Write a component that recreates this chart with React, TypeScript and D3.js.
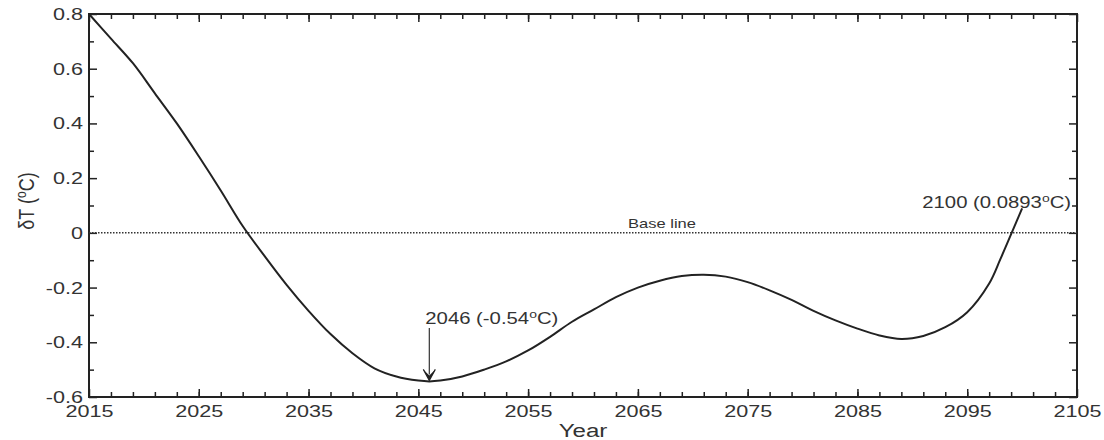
import React, { FC, useEffect, useRef } from "react";
import * as d3 from "d3";

// Temperature anomaly relative to the base line
const years = [
    2015, 2017, 2019, 2021, 2023, 2025, 2027, 2029, 2031, 2033, 2035, 2037, 2039, 2041, 2043, 2045, 2046,
    2047, 2049, 2051, 2053, 2055, 2057, 2059, 2061, 2063, 2065, 2067, 2069, 2071, 2073, 2075, 2077, 2079,
    2081, 2083, 2085, 2087, 2089, 2091, 2093, 2095, 2097, 2098, 2099, 2100,
];
const deltaT = [
    0.8, 0.71, 0.62, 0.51, 0.4, 0.28, 0.155, 0.025, -0.085, -0.19, -0.285, -0.37, -0.44, -0.495, -0.525, -0.54, -0.543,
    -0.54, -0.525, -0.5, -0.47, -0.43, -0.38, -0.325, -0.28, -0.235, -0.2, -0.175, -0.158, -0.153, -0.16, -0.18, -0.21, -0.245,
    -0.285, -0.32, -0.35, -0.375, -0.388, -0.377, -0.345, -0.29, -0.185, -0.098, -0.005, 0.0893,
];

const xMajorTicks = [2015, 2025, 2035, 2045, 2055, 2065, 2075, 2085, 2095, 2105];
const xMinorTicks = d3.range(2017, 2105, 2);
const yMajorTicks = [-0.6, -0.4, -0.2, 0, 0.2, 0.4, 0.6, 0.8];
const yMinorTicks = [-0.5, -0.3, -0.1, 0.1, 0.3, 0.5, 0.7];

const minYear = { year: 2046, value: -0.543, label: "2046 (-0.54" };
const endYear = { year: 2100, value: 0.0893, label: "2100 (0.0893" };

const FONT = "'Liberation Sans', Arial, sans-serif";
const INK = "#222";
const SX = 1.27; // the source figure is stretched horizontally

const Chart: FC = () => {
    const svgRef = useRef<SVGSVGElement>(null);

    useEffect(() => {
        if (!svgRef.current) return;
        d3.select(svgRef.current).selectAll("*").remove();

        const left = 89, right = 1077, top = 14, bottom = 397;
        const svg = d3.select(svgRef.current);

        const x = d3.scaleLinear().domain([2015, 2105]).range([left, right]);
        const y = d3.scaleLinear().domain([-0.6, 0.8]).range([bottom, top]);

        const styleAxis = (g: d3.Selection<SVGGElement, unknown, null, undefined>) => {
            g.select(".domain").remove();
            g.selectAll("line").attr("stroke", INK).attr("stroke-width", 1.5);
        };

        // Bottom axis with labels
        const bottomAxis = svg.append("g")
            .attr("transform", `translate(0,${bottom})`)
            .call(d3.axisBottom(x).tickValues(xMajorTicks).tickSize(-8).tickSizeOuter(0).tickPadding(8).tickFormat(d3.format("d")));
        styleAxis(bottomAxis);
        bottomAxis.selectAll("text")
            .attr("transform", `scale(${SX},1)`)
            .style("font-family", FONT).style("font-size", "17px").attr("fill", "#333");
        styleAxis(svg.append("g")
            .attr("transform", `translate(0,${bottom})`)
            .call(d3.axisBottom(x).tickValues(xMinorTicks).tickSize(-5).tickFormat(() => "")));

        // Top axis (ticks only)
        styleAxis(svg.append("g")
            .attr("transform", `translate(0,${top})`)
            .call(d3.axisTop(x).tickValues(xMajorTicks).tickSize(-8).tickFormat(() => "")));
        styleAxis(svg.append("g")
            .attr("transform", `translate(0,${top})`)
            .call(d3.axisTop(x).tickValues(xMinorTicks).tickSize(-5).tickFormat(() => "")));

        // Left axis with labels
        const leftAxis = svg.append("g")
            .attr("transform", `translate(${left},0)`)
            .call(d3.axisLeft(y).tickValues(yMajorTicks).tickSize(-8).tickSizeOuter(0)
                .tickFormat(d => String(+(+d).toFixed(1))));
        styleAxis(leftAxis);
        leftAxis.selectAll("text")
            .attr("x", -6 / SX)
            .attr("transform", `scale(${SX},1)`)
            .style("font-family", FONT).style("font-size", "17px").attr("fill", "#333");
        styleAxis(svg.append("g")
            .attr("transform", `translate(${left},0)`)
            .call(d3.axisLeft(y).tickValues(yMinorTicks).tickSize(-5).tickFormat(() => "")));

        // Right axis (ticks only)
        styleAxis(svg.append("g")
            .attr("transform", `translate(${right},0)`)
            .call(d3.axisRight(y).tickValues(yMajorTicks).tickSize(-8).tickFormat(() => "")));
        styleAxis(svg.append("g")
            .attr("transform", `translate(${right},0)`)
            .call(d3.axisRight(y).tickValues(yMinorTicks).tickSize(-5).tickFormat(() => "")));

        // Frame
        svg.append("rect")
            .attr("x", left).attr("y", top)
            .attr("width", right - left).attr("height", bottom - top)
            .attr("fill", "none").attr("stroke", INK).attr("stroke-width", 2);

        // Base line
        svg.append("line")
            .attr("x1", left).attr("x2", right)
            .attr("y1", y(0)).attr("y2", y(0))
            .attr("stroke", "#333").attr("stroke-width", 1.5)
            .attr("stroke-dasharray", "1.5,1.5");

        svg.append("text")
            .attr("transform", `translate(662,228) scale(${SX},1)`)
            .attr("text-anchor", "middle")
            .style("font-family", FONT).style("font-size", "13px").attr("fill", "#333")
            .text("Base line");

        // Curve
        const line = d3.line<number>()
            .x((_, i) => x(years[i]))
            .y(d => y(d))
            .curve(d3.curveCatmullRom.alpha(0.5));

        svg.append("path")
            .datum(deltaT)
            .attr("d", line)
            .attr("fill", "none")
            .attr("stroke", INK)
            .attr("stroke-width", 2);

        // Annotation helper with superscript degree
        const annotate = (tx: number, ty: number, anchor: string, label: string) => {
            const t = svg.append("text")
                .attr("transform", `translate(${tx},${ty}) scale(${SX},1)`)
                .attr("text-anchor", anchor)
                .style("font-family", FONT).style("font-size", "16px").attr("fill", "#333");
            t.append("tspan").text(label);
            t.append("tspan").attr("dy", -6).style("font-size", "11px").text("o");
            t.append("tspan").attr("dy", 6).text("C)");
        };

        // Minimum arrow
        const ax = x(minYear.year);
        const ay = y(minYear.value) - 1;
        svg.append("line")
            .attr("x1", ax).attr("x2", ax)
            .attr("y1", 328).attr("y2", ay - 6)
            .attr("stroke", "#333").attr("stroke-width", 1.2);
        svg.append("path")
            .attr("d", `M${ax - 6},${ay - 11} L${ax},${ay - 5} L${ax + 6},${ay - 11} L${ax},${ay} Z`)
            .attr("fill", INK);
        svg.append("path")
            .attr("d", `M${ax - 6},${ay - 11} L${ax},${ay} L${ax + 6},${ay - 11}`)
            .attr("fill", "none").attr("stroke", INK).attr("stroke-width", 1.2);
        annotate(ax - 4, 324, "start", minYear.label);

        // End label
        annotate(x(endYear.year) + 49, 208, "end", endYear.label);

        // Axis titles
        svg.append("text")
            .attr("transform", `translate(583,437) scale(${SX},1)`)
            .attr("text-anchor", "middle")
            .style("font-family", FONT).style("font-size", "19px").attr("fill", "#333")
            .text("Year");

        const yTitle = svg.append("text")
            .attr("transform", `translate(34,201) scale(${SX},1) rotate(-90)`)
            .attr("text-anchor", "middle")
            .style("font-family", FONT).style("font-size", "18px").attr("fill", "#333");
        yTitle.append("tspan").text("\u03B4T (");
        yTitle.append("tspan").attr("dy", -6).style("font-size", "12px").text("o");
        yTitle.append("tspan").attr("dy", 6).text("C)");
    }, []);

    return <svg ref={svgRef} width={1104} height={440} style={{ display: "block", background: "#fff" }}></svg>;
};

export default function App() {
    return (
        <div style={{ position: "absolute", left: 0, top: 0, width: 1104, height: 440 }}>
            <Chart />
        </div>
    );
}
